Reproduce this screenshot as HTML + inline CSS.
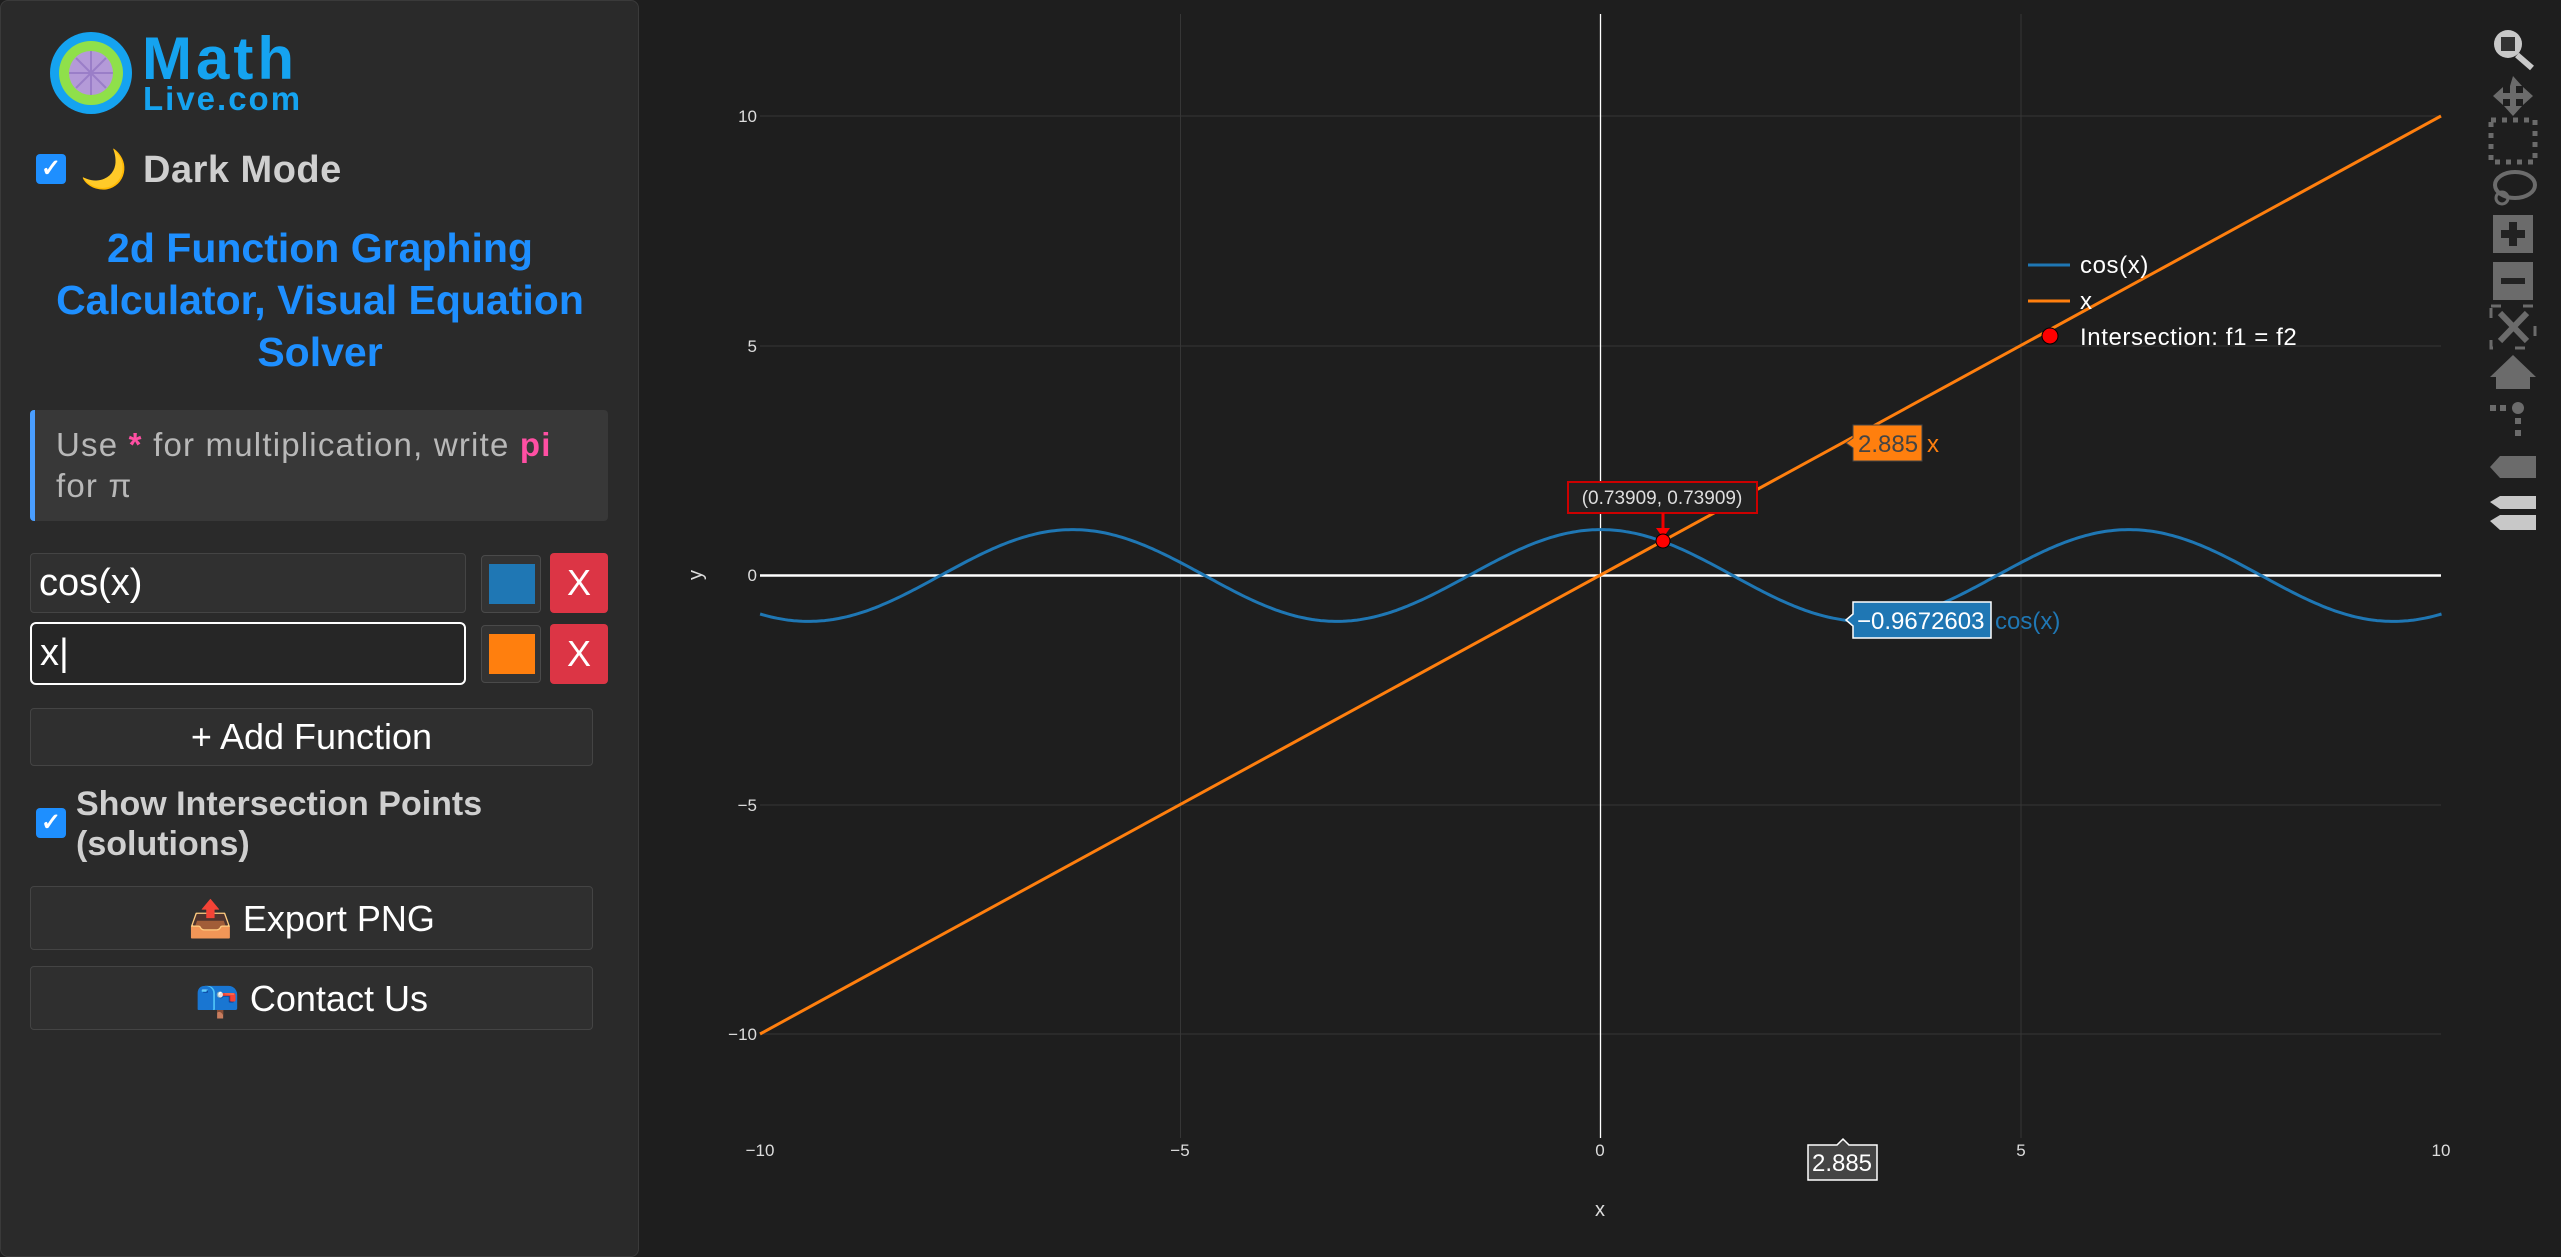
<!DOCTYPE html>
<html><head><meta charset="utf-8"><style>
*{box-sizing:border-box;margin:0;padding:0}
body{width:2561px;height:1257px;background:#1e1e1e;position:relative;overflow:hidden;font-family:"Liberation Sans",sans-serif}
.panel{position:absolute;left:0;top:0;width:639px;height:1257px;background:#2a2a2a;border:1px solid #3a3a3a;border-radius:8px}
.a{position:absolute}
.btn{position:absolute;left:30px;width:563px;background:#2f2f2f;border:1px solid #444;border-radius:4px;color:#fff;font-size:36px;text-align:center}
.inp{position:absolute;left:30px;width:436px;background:#303030;border:1px solid #444;border-radius:4px;color:#fff;font-size:38px;padding-left:8px}
.sw{position:absolute;left:481px;width:60px;height:58px;background:#333;border:1px solid #4a4a4a;border-radius:4px}
.sw div{position:absolute;left:7px;top:8px;width:46px;height:40px}
.x{position:absolute;left:550px;width:58px;height:60px;background:#dc3545;border-radius:4px;color:#fff;font-size:36px;text-align:center;line-height:60px}
.cb{position:absolute;width:30px;height:30px;background:#1e8fff;border-radius:4px;color:#fff;font-size:24px;text-align:center;line-height:30px;font-weight:bold}
</style></head><body>
<div class="panel"></div>
<svg class="a" style="left:46px;top:30px" width="90" height="86" viewBox="-45 -43 90 86">
<g fill="#15a3f0"><circle r="41"/></g>
<g fill="#8fe04a"><circle r="32"/></g>
<g fill="#b49ad8"><circle r="22"/></g>
<g stroke="#9a7ec8" stroke-width="2"><line x1="-22" y1="0" x2="22" y2="0"/><line y1="-22" x1="0" y2="22" x2="0"/><line x1="-15" y1="-15" x2="15" y2="15"/><line x1="-15" y1="15" x2="15" y2="-15"/></g>
</svg>
<div class="a" style="left:142px;top:24px;font-size:60px;font-weight:bold;color:#15a3f0;letter-spacing:4px">Math</div>
<div class="a" style="left:143px;top:80px;font-size:33px;font-weight:bold;color:#15a3f0;letter-spacing:2px">Live.com</div>
<div class="cb" style="left:36px;top:154px">✓</div>
<div class="a" style="left:80px;top:148px;font-size:38px">🌙</div>
<div class="a" style="left:143px;top:149px;font-size:38px;font-weight:bold;color:#cfcfcf;letter-spacing:0.5px">Dark Mode</div>
<div class="a" style="left:20px;top:222px;width:600px;text-align:center;font-size:41px;line-height:52px;font-weight:bold;color:#1e8fff">2d Function Graphing Calculator, Visual Equation Solver</div>
<div class="a" style="left:30px;top:410px;width:578px;height:111px;background:#383838;border-left:5px solid #4a9eff;border-radius:4px;padding:14px 0 0 21px;font-size:33px;line-height:41px;color:#b8b8b8;letter-spacing:1.2px;white-space:nowrap">Use <b style="color:#ff4fa3">*</b> for multiplication, write <b style="color:#ff4fa3">pi</b><br>for π</div>
<div class="inp" style="top:553px;height:60px;line-height:58px">cos(x)</div>
<div class="inp" style="top:622px;height:63px;line-height:58px;border:2px solid #fff;border-radius:6px;background:#262626">x|</div>
<div class="sw" style="top:555px"><div style="background:#1f77b4"></div></div>
<div class="sw" style="top:625px"><div style="background:#ff7f0e"></div></div>
<div class="x" style="top:553px">X</div>
<div class="x" style="top:624px">X</div>
<div class="btn" style="top:708px;height:58px;line-height:56px">+ Add Function</div>
<div class="cb" style="left:36px;top:808px">✓</div>
<div class="a" style="left:76px;top:784px;font-size:34px;line-height:40px;font-weight:bold;color:#cfcfcf">Show Intersection Points<br>(solutions)</div>
<div class="btn" style="top:886px;height:64px;line-height:64px">📤 Export PNG</div>
<div class="btn" style="top:966px;height:64px;line-height:64px">📪 Contact Us</div>

<svg class="a" style="left:0;top:0" width="2561" height="1257" font-family="Liberation Sans, sans-serif">
<g stroke="#363636" stroke-width="1">
<line x1="1180.5" y1="14" x2="1180.5" y2="1138"/><line x1="2021" y1="14" x2="2021" y2="1138"/>
<line x1="760" y1="116" x2="2441" y2="116"/><line x1="760" y1="346" x2="2441" y2="346"/>
<line x1="760" y1="805" x2="2441" y2="805"/><line x1="760" y1="1034" x2="2441" y2="1034"/>
</g>
<line x1="1600.5" y1="14" x2="1600.5" y2="1138" stroke="#fff" stroke-width="1.3"/>
<line x1="760" y1="575.5" x2="2441" y2="575.5" stroke="#fff" stroke-width="2.5"/>
<path id="cos" fill="none" stroke="#1f77b4" stroke-width="3"/>
<line x1="760" y1="1034" x2="2441" y2="116" stroke="#ff7f0e" stroke-width="3"/>
<g fill="#ddd" font-size="17">
<text x="760" y="1156" text-anchor="middle">−10</text><text x="1180" y="1156" text-anchor="middle">−5</text>
<text x="1600" y="1156" text-anchor="middle">0</text><text x="2021" y="1156" text-anchor="middle">5</text><text x="2441" y="1156" text-anchor="middle">10</text>
<text x="757" y="122" text-anchor="end">10</text><text x="757" y="352" text-anchor="end">5</text><text x="757" y="581" text-anchor="end">0</text>
<text x="757" y="811" text-anchor="end">−5</text><text x="757" y="1040" text-anchor="end">−10</text>
<text x="1600" y="1216" text-anchor="middle" font-size="20">x</text>
<text x="0" y="0" font-size="20" text-anchor="middle" transform="translate(702,575) rotate(-90)">y</text>
</g>
<g font-size="24" letter-spacing="0.6">
<line x1="2028" y1="265" x2="2070" y2="265" stroke="#1f77b4" stroke-width="3"/><text x="2080" y="273" fill="#fff">cos(x)</text>
<line x1="2028" y1="301" x2="2070" y2="301" stroke="#ff7f0e" stroke-width="3"/><text x="2080" y="309" fill="#fff">x</text>
<circle cx="2050" cy="336" r="8" fill="#f00" stroke="#000" stroke-width="1"/><text x="2080" y="345" fill="#fff">Intersection: f1 = f2</text>
</g>
<rect x="1568" y="482" width="189" height="31" fill="#222" stroke="#c00" stroke-width="2"/>
<text x="1662" y="504" fill="#ddd" font-size="19" text-anchor="middle">(0.73909, 0.73909)</text>
<line x1="1663" y1="513" x2="1663" y2="532" stroke="#e00" stroke-width="3"/>
<path d="M1656 528 L1670 528 L1663 538Z" fill="#f00"/>
<circle cx="1663" cy="541" r="7" fill="#f00" stroke="#000"/>
<path d="M1853 425 L1922 425 L1922 461 L1853 461 L1853 448 L1846 443 L1853 438Z" fill="#ff7f0e" stroke="#444"/>
<text x="1858" y="452" font-size="24" fill="#444">2.885</text><text x="1927" y="452" font-size="24" fill="#ff7f0e">x</text>
<path d="M1853 602 L1991 602 L1991 638 L1853 638 L1853 626 L1846 620 L1853 614Z" fill="#1f77b4" stroke="#fff" stroke-width="1.5"/>
<text x="1857" y="629" font-size="24" fill="#fff">−0.9672603</text><text x="1995" y="629" font-size="24" fill="#1f77b4">cos(x)</text>
<path d="M1808 1145 L1837 1145 L1843 1139 L1849 1145 L1877 1145 L1877 1180 L1808 1180Z" fill="#444" stroke="#fff" stroke-width="1.5"/>
<text x="1842" y="1171" font-size="24" fill="#fff" text-anchor="middle">2.885</text>
<g fill="#6b6b6b">
<circle cx="2508" cy="44" r="14" fill="#c8c8c8"/><rect x="2501" y="37" width="14" height="14" fill="#333"/><line x1="2517" y1="55" x2="2532" y2="68" stroke="#c8c8c8" stroke-width="6"/>
<path d="M2513 76 L2522 86 L2516 86 L2516 93 L2523 93 L2523 87 L2533 96 L2523 105 L2523 99 L2516 99 L2516 106 L2522 106 L2513 116 L2504 106 L2510 106 L2510 99 L2503 99 L2503 105 L2493 96 L2503 87 L2503 93 L2510 93 L2510 86Z"/>
<rect x="2491" y="120" width="44" height="42" fill="none" stroke="#6b6b6b" stroke-width="5" stroke-dasharray="5 6"/>
<ellipse cx="2515" cy="185" rx="20" ry="13" fill="none" stroke="#6b6b6b" stroke-width="4"/><circle cx="2502" cy="198" r="6" fill="none" stroke="#6b6b6b" stroke-width="3"/>
<rect x="2493" y="215" width="40" height="38"/><rect x="2493" y="262" width="40" height="38"/>
<path d="M2501 230h24v8h-24z M2509 222h8v24h-8z M2501 278h24v6h-24z" fill="#222"/>
<rect x="2491" y="306" width="44" height="42" fill="none" stroke="#6b6b6b" stroke-width="3" stroke-dasharray="10 22"/><path d="M2500 313 L2527 341 M2527 313 L2500 341" stroke="#6b6b6b" stroke-width="6"/>
<path d="M2513 355 L2536 377 L2530 377 L2530 389 L2496 389 L2496 377 L2490 377Z"/>
<rect x="2490" y="405" width="6" height="6"/><rect x="2500" y="405" width="6" height="6"/><circle cx="2518" cy="408" r="6"/><rect x="2515" y="418" width="6" height="6"/><rect x="2515" y="430" width="6" height="6"/>
<path d="M2490 467 L2500 456 L2536 456 L2536 478 L2500 478Z"/>
<path d="M2490 502 L2500 496 L2536 496 L2536 509 L2500 509Z M2490 521 L2500 515 L2536 515 L2536 530 L2500 530Z" fill="#c8c8c8"/>
</g>
</svg>
<script>
var d="";for(var i=0;i<=600;i++){var x=-10+20*i/600;d+=(i?"L":"M")+(1600.8+84.07*x).toFixed(1)+" "+(575.5-45.9*Math.cos(x)).toFixed(1);}
document.getElementById("cos").setAttribute("d",d);
</script>
</body></html>
